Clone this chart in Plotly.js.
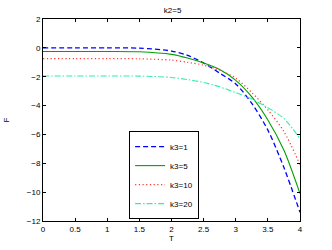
<!DOCTYPE html>
<html>
<head>
<meta charset="utf-8">
<script src="https://cdn.plot.ly/plotly-3.0.1.min.js"></script>
<style>html,body{margin:0;padding:0;background:#fff;}#chart{width:332px;height:250px;}</style>
</head>
<body>
<div id="chart"></div>
<script>
var T = [0, 0.5, 1, 1.5, 2, 2.25, 2.5, 2.75, 3, 3.25, 3.5, 3.75, 4];
var k3_1  = [0, 0, 0, -0.02, -0.22, -0.52, -1.05, -1.75, -2.5, -3.85, -5.7, -8.3, -11.4];
var k3_5  = [-0.25, -0.25, -0.25, -0.27, -0.45, -0.7, -1.05, -1.5, -2.25, -3.4, -5.0, -7.1, -10.1];
var k3_10 = [-0.75, -0.75, -0.75, -0.76, -0.85, -1.0, -1.2, -1.55, -2.1, -3.1, -4.3, -5.8, -8.1];
var k3_20 = [-1.95, -1.95, -1.95, -1.96, -2.05, -2.2, -2.4, -2.7, -3.1, -3.55, -4.15, -4.9, -6.3];
var names = ['k3=1', 'k3=5', 'k3=10', 'k3=20'];
var xTicks = [0, 0.5, 1, 1.5, 2, 2.5, 3, 3.5, 4];
var yTicks = [-12, -10, -8, -6, -4, -2, 0, 2];

var series = [k3_1, k3_5, k3_10, k3_20];
var colors = ['#0000ff', '#00a000', '#ff3333', '#33eeaa'];
var dashes = ['5px,3px', 'solid', '1.2px,2.5px', '6px,2px,1.5px,2px'];
var widths = [1.3, 1.1, 1.2, 1.1];
var data = series.map(function (s, i) {
  return {x: T, y: s, name: names[i], mode: 'lines', type: 'scatter',
    line: {color: colors[i], dash: dashes[i], width: widths[i], shape: 'spline', smoothing: 0.8}};
});
var axisBase = {showgrid: false, zeroline: false, showline: true, linecolor: '#000', linewidth: 1,
  mirror: 'ticks', ticks: 'inside', ticklen: 3, tickcolor: '#000', tickfont: {size: 8, color: '#000'}};
var layout = {
  width: 332, height: 250,
  margin: {l: 43, r: 32, t: 19, b: 29},
  paper_bgcolor: '#fff', plot_bgcolor: '#fff',
  font: {family: 'Liberation Sans, Arial, sans-serif', size: 8, color: '#000'},
  title: {text: 'k2=5', font: {size: 8}, x: 0.52, xanchor: 'center', y: 0.96, yanchor: 'middle'},
  xaxis: Object.assign({}, axisBase, {range: [0, 4], tickvals: xTicks, ticktext: xTicks.map(String),
    title: {text: 'T', font: {size: 8}, standoff: 2}}),
  yaxis: Object.assign({}, axisBase, {range: [-12, 2], tickvals: yTicks,
    ticktext: yTicks.map(function (v) { return v < 0 ? '\u2212' + Math.abs(v) : String(v); }),
    title: {text: 'F', font: {size: 8}, standoff: 16}}),
  showlegend: true,
  legend: {x: 0.335, y: 0.445, xanchor: 'left', yanchor: 'top', bgcolor: '#fff',
    bordercolor: '#000', borderwidth: 1, font: {size: 8}, tracegroupgap: 0, itemwidth: 30}
};
Plotly.newPlot('chart', data, layout, {displayModeBar: false, staticPlot: true});
</script>
</body>
</html>
